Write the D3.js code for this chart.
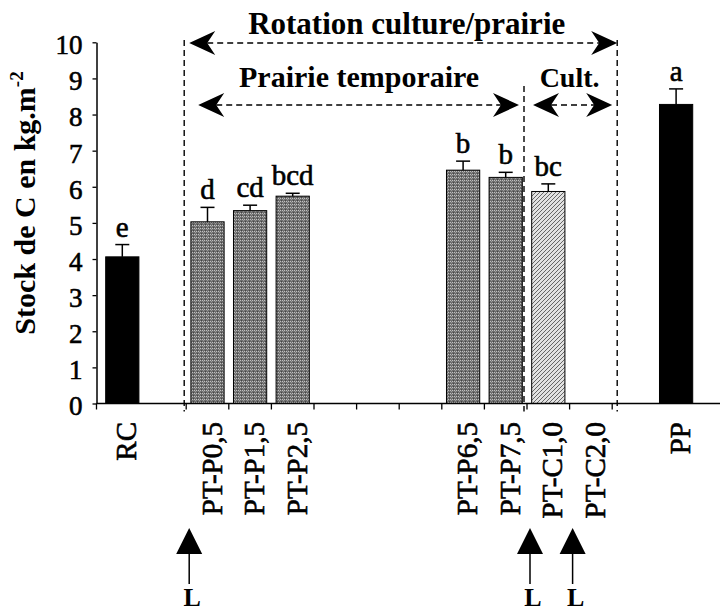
<html>
<meta charset="utf-8" />
<head>
<title>Stock de C</title>
<script src="https://cdn.jsdelivr.net/npm/d3@7/dist/d3.min.js"></script>
<style>
	body { margin: 0; background: #fff; }
	svg { display: block; }
	text { font-family: "Liberation Serif", "Times New Roman", serif; fill: #000; }
	text.thick { stroke: #000; stroke-width: 0.6px; }
</style>
<script>
// slots along the x axis ("_" = empty slot, no label)
const slots = ['RC', '_a', 'PT-P0,5', 'PT-P1,5', 'PT-P2,5', '_b', '_c', '_d',
	'PT-P6,5', 'PT-P7,5', 'PT-C1,0', 'PT-C2,0', '_e', 'PP'];

// measured bars
const barCats = ['RC', 'PT-P0,5', 'PT-P1,5', 'PT-P2,5', 'PT-P6,5', 'PT-P7,5', 'PT-C1,0', 'PP'];
const barGroup = ['ref', 'prairie', 'prairie', 'prairie', 'prairie', 'prairie', 'culture', 'ref'];
const stock = [4.06, 5.03, 5.34, 5.74, 6.46, 6.26, 5.87, 8.28];
const stockErr = [0.34, 0.40, 0.15, 0.08, 0.25, 0.14, 0.21, 0.43];
const letters = ['e', 'd', 'cd', 'bcd', 'b', 'b', 'bc', 'a'];

const yTicks = [0, 1, 2, 3, 4, 5, 6, 7, 8, 9, 10];

// labour (L) events, placed at the start of these slots
const labourAt = ['PT-P0,5', 'PT-C1,0', 'PT-C2,0'];

window.onload = function() {
	let svg = d3.select('svg');

	let xScale = d3.scaleBand().domain(slots).range([101, 697.4]).paddingInner(0.22).paddingOuter(0.11);
	let step = xScale.step();
	let yScale = d3.scaleLinear().domain([0, 10]).range([403.5, 42.3]);

	// patterns
	let defs = svg.append('defs');
	let dots = defs.append('pattern').attr('id', 'dots')
		.attr('width', 4).attr('height', 3).attr('patternUnits', 'userSpaceOnUse');
	dots.append('rect').attr('width', 4).attr('height', 3).attr('fill', '#6e6e6e');
	dots.append('rect').attr('x', 0).attr('y', 0).attr('width', 1).attr('height', 1).attr('fill', '#c0c0c0');
	dots.append('rect').attr('x', 2).attr('y', 0).attr('width', 1).attr('height', 1).attr('fill', '#c0c0c0');
	dots.append('rect').attr('x', 1).attr('y', 2).attr('width', 1).attr('height', 1).attr('fill', '#444');
	dots.append('rect').attr('x', 3).attr('y', 1).attr('width', 1).attr('height', 1).attr('fill', '#9a9a9a');

	let hatch = defs.append('pattern').attr('id', 'hatch')
		.attr('width', 4).attr('height', 4).attr('patternUnits', 'userSpaceOnUse');
	hatch.append('rect').attr('width', 4).attr('height', 4).attr('fill', '#e2e2e2');
	hatch.append('path').attr('d', 'M-1,1 L1,-1 M0,4 L4,0 M3,5 L5,3')
		.attr('stroke', '#666').attr('stroke-width', 1);

	let fills = { ref: '#000', prairie: 'url(#dots)', culture: 'url(#hatch)' };

	// y axis
	let yAxis = d3.axisLeft(yScale).tickValues(yTicks).tickSize(4).tickSizeOuter(0).tickPadding(10);
	let yG = svg.append('g').attr('transform', 'translate(96.5,0)').call(yAxis);
	yG.select('.domain').attr('stroke-width', 1.5);
	yG.selectAll('.tick line').attr('stroke-width', 1.3);
	yG.selectAll('text').attr('class', 'thick').attr('font-size', 27).attr('dy', '0.42em')
		.style('font-family', '"Liberation Serif", serif');

	// y title
	let yTitle = svg.append('text')
		.attr('transform', 'translate(35,203) rotate(-90)')
		.attr('text-anchor', 'middle')
		.attr('font-size', 30).attr('font-weight', 'bold');
	yTitle.append('tspan').text('Stock de C en kg.m');
	yTitle.append('tspan').attr('font-size', 19).attr('dy', -12).text('-2');

	// bars
	let bars = barCats.map((c, i) => ({ cat: c, group: barGroup[i], v: stock[i], e: stockErr[i], l: letters[i] }));
	let bw = xScale.bandwidth();

	svg.selectAll('rect.bar').data(bars).enter()
		.append('rect').attr('class', 'bar')
		.attr('x', (d) => xScale(d.cat))
		.attr('y', (d) => yScale(d.v))
		.attr('width', bw)
		.attr('height', (d) => yScale(0) - yScale(d.v))
		.attr('fill', (d) => fills[d.group])
		.attr('stroke', '#000')
		.attr('stroke-width', 1);

	// error bars (upper only)
	svg.selectAll('line.err').data(bars).enter()
		.append('line').attr('class', 'err')
		.attr('x1', (d) => xScale(d.cat) + bw / 2).attr('x2', (d) => xScale(d.cat) + bw / 2)
		.attr('y1', (d) => yScale(d.v)).attr('y2', (d) => yScale(d.v + d.e))
		.attr('stroke', '#000').attr('stroke-width', 1.5);
	svg.selectAll('line.cap').data(bars).enter()
		.append('line').attr('class', 'cap')
		.attr('x1', (d) => xScale(d.cat) + bw / 2 - 7).attr('x2', (d) => xScale(d.cat) + bw / 2 + 7)
		.attr('y1', (d) => yScale(d.v + d.e)).attr('y2', (d) => yScale(d.v + d.e))
		.attr('stroke', '#000').attr('stroke-width', 1.5);

	// significance letters
	svg.selectAll('text.letter').data(bars).enter()
		.append('text').attr('class', 'letter thick')
		.attr('x', (d) => xScale(d.cat) + bw / 2)
		.attr('y', (d) => yScale(d.v + d.e) - 8)
		.attr('text-anchor', 'middle')
		.attr('font-size', 29)
		.text((d) => d.l);

	// x axis
	let x0 = 96.5;
	svg.append('line').attr('x1', x0).attr('x2', 720).attr('y1', yScale(0)).attr('y2', yScale(0))
		.attr('stroke', '#000').attr('stroke-width', 1.5);
	let tickX = [x0].concat(slots.slice(2, 13).map((s) => xScale(s) - step * 0.11));
	svg.selectAll('line.xtick').data(tickX).enter()
		.append('line').attr('class', 'xtick')
		.attr('x1', (d) => d).attr('x2', (d) => d)
		.attr('y1', yScale(0)).attr('y2', yScale(0) + 6)
		.attr('stroke', '#000').attr('stroke-width', 1.3);

	// category labels
	svg.selectAll('text.cat').data(slots.filter((s) => s[0] !== '_')).enter()
		.append('text').attr('class', 'cat thick')
		.attr('transform', (d) => 'translate(' + (xScale(d) + bw / 2 + 14) + ',422) rotate(-90)')
		.attr('text-anchor', 'end')
		.attr('font-size', 29)
		.text((d) => d);

	// boundaries: start of rotation, prairie -> culture, end of rotation
	let left = xScale('PT-P0,5') - step * 0.11 - 2;
	let mid = xScale('PT-C1,0') - step * 0.11 - 3;
	let right = xScale('_e') - step * 0.11 + 5;

	let dash = '6,4';
	[[left, 40], [mid, 86], [right, 40]].forEach((p) => {
		svg.append('line').attr('x1', p[0]).attr('x2', p[0]).attr('y1', p[1]).attr('y2', yScale(0) + 8)
			.attr('stroke', '#000').attr('stroke-width', 1.4).attr('stroke-dasharray', dash);
	});

	function head(x, y, dir) {
		// stealth type arrow head, tip at x, pointing dir (-1 left, +1 right)
		let b = x - dir * 26, n = x - dir * 18;
		return 'M' + x + ',' + y + 'L' + b + ',' + (y - 12) + 'L' + n + ',' + y + 'L' + b + ',' + (y + 12) + 'Z';
	}
	function dArrow(a, b, y) {
		svg.append('line').attr('x1', a + 18).attr('x2', b - 18).attr('y1', y).attr('y2', y)
			.attr('stroke', '#000').attr('stroke-width', 1.4).attr('stroke-dasharray', dash);
		svg.append('path').attr('d', head(a, y, -1)).attr('fill', '#000');
		svg.append('path').attr('d', head(b, y, 1)).attr('fill', '#000');
	}
	dArrow(left + 5, right, 43);
	dArrow(left + 14, mid - 5, 105);
	dArrow(mid + 9, right - 5, 105);

	svg.append('text').attr('x', (left + right) / 2 + 6).attr('y', 34)
		.attr('text-anchor', 'middle').attr('font-size', 31).attr('font-weight', 'bold')
		.text('Rotation culture/prairie');
	svg.append('text').attr('x', (left + mid) / 2 + 5).attr('y', 87)
		.attr('text-anchor', 'middle').attr('font-size', 30).attr('font-weight', 'bold')
		.text('Prairie temporaire');
	svg.append('text').attr('x', (mid + right) / 2 - 1).attr('y', 87)
		.attr('text-anchor', 'middle').attr('font-size', 28).attr('font-weight', 'bold')
		.text('Cult.');

	// labour arrows below the axis
	let lab = svg.selectAll('g.lab').data(labourAt).enter()
		.append('g').attr('class', 'lab')
		.attr('transform', (d) => 'translate(' + (xScale(d) - step * 0.11 + 3) + ',0)');
	lab.append('path').attr('d', 'M0,528L13,554L-13,554Z').attr('fill', '#000');
	lab.append('line').attr('x1', 0).attr('x2', 0).attr('y1', 554).attr('y2', 584)
		.attr('stroke', '#000').attr('stroke-width', 1.5);
	lab.append('text').attr('x', 3).attr('y', 606).attr('text-anchor', 'middle')
		.attr('font-size', 26).attr('font-weight', 'bold').text('L');
};
</script>
</head>
<body>
<svg width="720" height="613"></svg>
</body>
</html>
